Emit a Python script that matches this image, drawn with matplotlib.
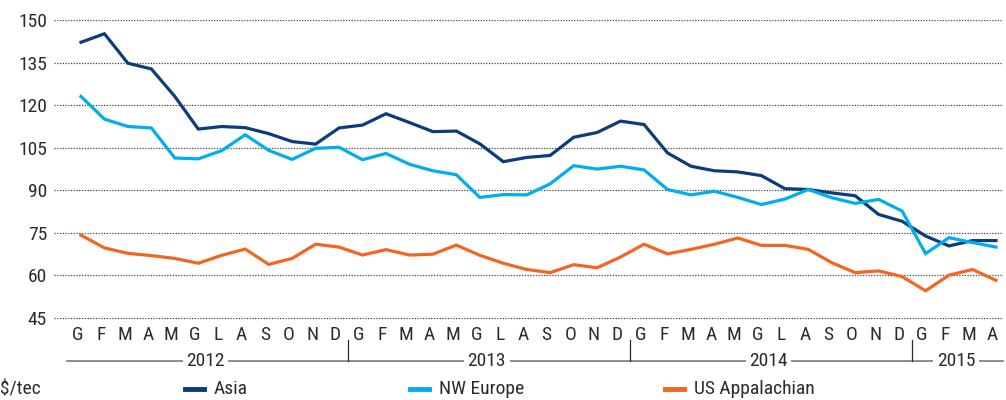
import matplotlib
matplotlib.use('Agg')
import matplotlib.pyplot as plt
import matplotlib.transforms as mtransforms
from matplotlib.lines import Line2D
import numpy as np

plt.rcParams['font.family'] = ['Roboto Condensed', 'Fira Sans Condensed', 'DejaVu Sans']

MONTHS = ['G', 'F', 'M', 'A', 'M', 'G', 'L', 'A', 'S', 'O', 'N', 'D']
YEARS = ['2012', '2013', '2014', '2015']
MONTHS_PER_YEAR = [12, 12, 12, 4]

asia = [142.2, 145.2, 134.8, 132.8, 123.1, 111.6, 112.5, 112.1, 110.0, 107.2,
        106.3, 112.0, 113.0, 117.0, 113.9, 110.7, 110.9, 106.4, 100.1, 101.6,
        102.3, 108.7, 110.4, 114.4, 113.2, 103.2, 98.5, 96.9, 96.5, 95.2,
        90.6, 90.3, 89.1, 88.1, 81.5, 79.1, 73.9, 70.4, 72.3, 72.3]
nw_europe = [123.1, 115.1, 112.5, 112.0, 101.4, 101.1, 104.0, 109.6, 104.1, 100.9,
             104.8, 105.2, 100.8, 103.0, 99.2, 96.9, 95.5, 87.5, 88.5, 88.4,
             92.3, 98.7, 97.5, 98.5, 97.2, 90.3, 88.4, 89.7, 87.5, 85.0,
             86.9, 90.3, 87.4, 85.4, 86.8, 82.7, 67.7, 73.3, 71.6, 70.0]
us_appalachian = [74.2, 69.7, 67.8, 67.0, 66.0, 64.3, 67.1, 69.3, 63.9, 66.0,
                  71.0, 70.0, 67.2, 69.1, 67.2, 67.5, 70.7, 67.1, 64.3, 62.1,
                  61.0, 63.8, 62.7, 66.5, 71.0, 67.6, 69.2, 71.0, 73.2, 70.6,
                  70.6, 69.2, 64.5, 61.0, 61.6, 59.6, 54.6, 60.1, 62.1, 58.3]

series = [('Asia', asia, '#0b3c7c'),
          ('NW Europe', nw_europe, '#00aeef'),
          ('US Appalachian', us_appalachian, '#f26522')]

text_color = '#2b2b2b'
fs = 14

fig = plt.figure(figsize=(10.06, 4.0), dpi=100)
# axes bottom a hair below 45 so the 45 gridline is not clipped
ax = fig.add_axes([54 / 1006, 80 / 400, 949 / 1006, 300 / 400])

x = np.arange(len(asia))
for name, vals, color in series:
    ax.plot(x, vals, color=color, linewidth=2.3, solid_joinstyle='miter', zorder=3)

ax.set_xlim(-1.15, 39.3)
ax.set_ylim(45 - 2 * 105 / 298, 150 + 0.05)
ax.set_yticks(np.arange(45, 151, 15))
ax.yaxis.grid(True, linestyle=(0, (1, 1.2)), color='#444444', linewidth=0.9)
ax.tick_params(axis='y', length=0, pad=5, labelsize=fs, labelcolor=text_color)
for s in ax.spines.values():
    s.set_visible(False)

month_labels = [MONTHS[i % 12] for i in range(len(asia))]
ax.set_xticks(x - 0.15)
ax.set_xticklabels(month_labels)
ax.tick_params(axis='x', length=0, pad=4, labelsize=fs, labelcolor=text_color)

# year bracket under the month labels
trans = mtransforms.blended_transform_factory(ax.transData, ax.transAxes)
y_line = -(361 - 320) / 300
y_sep_top = -(340 - 320) / 300
ax.plot([-0.6, 39.3], [y_line, y_line], color='#7a7a7a', linewidth=1.2,
        transform=trans, clip_on=False)
start = 0
for year, n in zip(YEARS, MONTHS_PER_YEAR):
    center = start + (n - 1) / 2 - 0.2
    ax.text(center, y_line, year, transform=trans, ha='center', va='center',
            fontsize=fs, color=text_color,
            bbox=dict(facecolor='white', edgecolor='none', pad=2.5))
    if start > 0:
        ax.plot([start - 0.6, start - 0.6], [y_line, y_sep_top], color='#2b2b2b',
                linewidth=0.9, transform=trans, clip_on=False)
    start += n

# legend row
y_leg = 1 - 389 / 400
fig.text(0.0, y_leg, '$/tec', ha='left', va='center', fontsize=fs, color=text_color)
handle_px = [185, 410, 665]
for (name, vals, color), px in zip(series, handle_px):
    fig.add_artist(Line2D([px / 1006, (px + 19) / 1006], [y_leg, y_leg],
                          color=color, linewidth=3.5, transform=fig.transFigure))
    fig.text((px + 29) / 1006, y_leg, name, ha='left', va='center',
             fontsize=fs, color=text_color)

fig.savefig('out.png', dpi=100)
